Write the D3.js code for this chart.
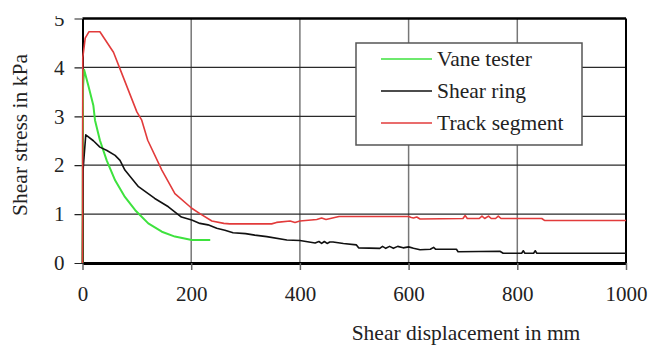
<!DOCTYPE html>
<html>
<head>
<meta charset="utf-8">
<script src="https://cdn.jsdelivr.net/npm/d3@7"></script>
<style>
  body { margin: 0; background: #fff; }
  svg { display: block; }
  svg text { font-family: "Liberation Serif", "DejaVu Serif", serif; }
</style>
</head>
<body>
<svg id="chart" width="661" height="349"></svg>
<script>
// Valeurs : [déplacement mm, contrainte kPa]
const vaneTester = [
  [0, 0], [1, 3.6], [3, 3.95], [10.7, 3.63], [20, 3.22], [23, 2.92], [32, 2.51],
  [44.5, 2.1], [60, 1.69], [78, 1.35], [97, 1.08], [121, 0.81], [146, 0.64],
  [170, 0.54], [201, 0.47], [235, 0.47]
];
const shearRing = [
  [0, 0], [1, 1.9], [6, 2.62], [20, 2.5], [32, 2.37], [45, 2.3], [60, 2.2], [69, 2.1],
  [78, 1.9], [103, 1.56], [133, 1.32], [158, 1.15], [182, 0.94], [201, 0.88],
  [216, 0.81], [231, 0.78], [247, 0.71], [262, 0.67], [277, 0.62], [300, 0.6],
  [317, 0.57], [339, 0.54], [376, 0.47], [400, 0.46], [428, 0.41], [435, 0.44],
  [440, 0.4], [445, 0.44], [450, 0.4], [455, 0.43], [461, 0.43], [480, 0.4],
  [504, 0.37], [508, 0.31], [547, 0.3], [552, 0.34], [558, 0.3], [565, 0.34],
  [572, 0.3], [580, 0.34], [590, 0.31], [600, 0.33], [609, 0.3], [621, 0.27],
  [640, 0.28], [646, 0.32], [650, 0.28], [688, 0.28], [691, 0.23], [768, 0.24],
  [774, 0.2], [808, 0.2], [811, 0.25], [814, 0.2], [830, 0.2], [833, 0.25],
  [836, 0.2], [1000, 0.2]
];
const trackSegment = [
  [0, 0], [0.5, 4.2], [5, 4.6], [12, 4.73], [32, 4.73], [57, 4.31], [69, 3.97],
  [100, 3.09], [109, 2.92], [120, 2.51], [146, 1.9], [170, 1.42], [201, 1.12],
  [216, 1.01], [238, 0.86], [260, 0.81], [271, 0.8], [348, 0.8], [357, 0.83],
  [382, 0.86], [391, 0.83], [400, 0.86], [431, 0.89], [440, 0.92], [448, 0.89],
  [468, 0.94], [472, 0.95], [600, 0.95], [605, 0.93], [609, 0.92], [615, 0.94],
  [621, 0.9], [700, 0.91], [704, 0.97], [708, 0.91], [730, 0.91], [735, 0.96],
  [740, 0.91], [747, 0.96], [752, 0.91], [760, 0.91], [765, 0.96], [770, 0.91],
  [845, 0.91], [850, 0.87], [1000, 0.87]
];
const xTicks = [0, 200, 400, 600, 800, 1000];
const yTicks = [0, 1, 2, 3, 4, 5];
const seriesNames = ["Vane tester", "Shear ring", "Track segment"];
const seriesColors = ["#3ee23e", "#111111", "#e23b3b"];

const svg = d3.select("#chart");

const xScale = d3.scaleLinear().domain([0, 1000]).range([82.5, 626]);
const yScale = d3.scaleLinear().domain([0, 5]).range([263, 18.5]);

// Grille verticale (grise)
svg.append("g")
  .selectAll("line")
  .data(xTicks.slice(1, -1))
  .join("line")
  .attr("x1", d => xScale(d)).attr("x2", d => xScale(d))
  .attr("y1", yScale(5)).attr("y2", yScale(0))
  .attr("stroke", "#777").attr("stroke-width", 1.5);

// Grille horizontale
svg.append("g")
  .selectAll("line")
  .data(yTicks.slice(1, -1))
  .join("line")
  .attr("x1", xScale(0)).attr("x2", xScale(1000))
  .attr("y1", d => yScale(d)).attr("y2", d => yScale(d))
  .attr("stroke", "#2a2a2a").attr("stroke-width", 1.2);

// Bordures haut et droite
svg.append("line")
  .attr("x1", xScale(0)).attr("x2", xScale(1000))
  .attr("y1", yScale(5)).attr("y2", yScale(5))
  .attr("stroke", "#000").attr("stroke-width", 2.5);
svg.append("line")
  .attr("x1", xScale(1000)).attr("x2", xScale(1000))
  .attr("y1", yScale(5)).attr("y2", yScale(0))
  .attr("stroke", "#000").attr("stroke-width", 2);

// Axe x
const xAxis = svg.append("g")
  .attr("transform", `translate(0,${yScale(0)})`)
  .call(d3.axisBottom(xScale).tickValues(xTicks).tickFormat(d3.format("d"))
    .tickSize(7).tickPadding(16).tickSizeOuter(0))
  .attr("font-family", null).attr("font-size", 21);
xAxis.select(".domain").attr("stroke-width", 3);
xAxis.selectAll(".tick line").attr("stroke", "#666").attr("stroke-width", 1.5);
xAxis.selectAll("text").attr("fill", "#222");

// Axe y (le « 5 » est coupé en haut comme sur l'original)
svg.append("clipPath").attr("id", "clipY")
  .append("rect").attr("x", -90).attr("y", 16).attr("width", 100).attr("height", 300);
const yAxis = svg.append("g")
  .attr("transform", `translate(${xScale(0)},0)`)
  .attr("clip-path", "url(#clipY)")
  .call(d3.axisLeft(yScale).tickValues(yTicks).tickFormat(d3.format("d"))
    .tickSize(8).tickPadding(10).tickSizeOuter(0))
  .attr("font-family", null).attr("font-size", 21);
yAxis.select(".domain").attr("stroke-width", 2);
yAxis.selectAll(".tick line").attr("stroke", "#222").attr("stroke-width", 1.2);
yAxis.selectAll("text").attr("fill", "#222");

// Courbes
const line = d3.line().x(d => xScale(d[0])).y(d => yScale(d[1]));
[vaneTester, shearRing, trackSegment].forEach((serie, i) => {
  svg.append("path")
    .datum(serie)
    .attr("d", line)
    .attr("fill", "none")
    .attr("stroke", seriesColors[i])
    .attr("stroke-width", i === 0 ? 2 : 1.6)
    .attr("stroke-linejoin", "round");
});

// Titres des axes
svg.append("text")
  .text("Shear stress in kPa")
  .attr("transform", "translate(27,135) rotate(-90)")
  .attr("text-anchor", "middle")
  .attr("font-size", 21.5)
  .attr("fill", "#222");

svg.append("text")
  .text("Shear displacement in mm")
  .attr("x", 466).attr("y", 340)
  .attr("text-anchor", "middle")
  .attr("font-size", 21.5)
  .attr("fill", "#222");

// Légende
const legend = svg.append("g");
legend.append("rect")
  .attr("x", 356).attr("y", 43).attr("width", 226).attr("height", 102)
  .attr("fill", "#fff").attr("stroke", "#555").attr("stroke-width", 1.5);

const legendItems = legend.selectAll(".legend-item")
  .data(seriesNames)
  .join("g")
  .attr("class", "legend-item")
  .attr("transform", (d, i) => `translate(0,${59 + i * 32})`);

legendItems.append("line")
  .attr("x1", 381).attr("x2", 432)
  .attr("stroke", (d, i) => seriesColors[i])
  .attr("stroke-width", 1.6);

legendItems.append("text")
  .text(d => d)
  .attr("x", 437).attr("y", 0).attr("dy", "0.32em")
  .attr("font-size", 21.5)
  .attr("fill", "#222");
</script>
</body>
</html>
